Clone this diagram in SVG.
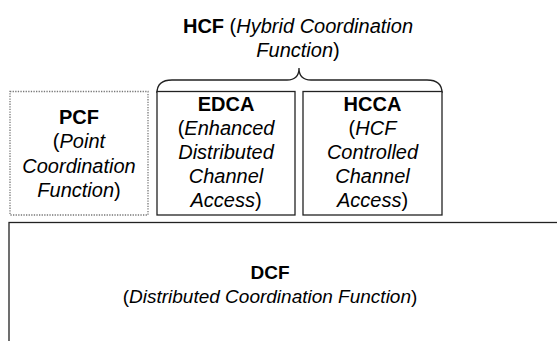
<svg xmlns="http://www.w3.org/2000/svg" width="557" height="341" viewBox="0 0 557 341">
<style>
text { font-family: "Liberation Sans", Arial, sans-serif; font-size: 20px; fill: #000; text-anchor: middle; }
.b { font-weight: bold; }
.i { font-style: italic; }
.s19 { font-size: 19px; }
.box { fill: #fff; stroke: #222; stroke-width: 1.3; }
.dot { fill: #fff; stroke: #777; stroke-width: 1.3; stroke-dasharray: 1.3 1.3; }
.brace { fill: none; stroke: #222; stroke-width: 1.3; }
</style>
<rect width="557" height="341" fill="#fff"/>
<g id="hcf">
<text x="298" y="33"><tspan class="b">HCF</tspan> (<tspan class="i">Hybrid Coordination</tspan></text>
<text x="298" y="57"><tspan class="i">Function</tspan>)</text>
</g>
<g id="connectors">
<path class="brace" d="M157,93 Q157,80 172,80 L287,80 Q299,80 299,68 Q299,80 311,80 L427,80 Q442,80 442,93"/>
</g>
<g id="pcf">
<rect class="dot" x="10" y="91.5" width="138" height="123.5"/>
<text x="79" y="124" class="b">PCF</text>
<text x="79" y="148">(<tspan class="i">Point</tspan></text>
<text x="79" y="173" class="i">Coordination</text>
<text x="79" y="197"><tspan class="i">Function</tspan>)</text>
</g>
<g id="edca">
<rect class="box" x="157" y="91.5" width="138" height="123.5"/>
<text x="226" y="111" class="b">EDCA</text>
<text x="226" y="135">(<tspan class="i">Enhanced</tspan></text>
<text x="226" y="159" class="i">Distributed</text>
<text x="226" y="183" class="i">Channel</text>
<text x="226" y="207"><tspan class="i">Access</tspan>)</text>
</g>
<g id="hcca">
<rect class="box" x="303" y="91.5" width="139" height="123.5"/>
<text x="372.5" y="111" class="b">HCCA</text>
<text x="372.5" y="135">(<tspan class="i">HCF</tspan></text>
<text x="372.5" y="159" class="i">Controlled</text>
<text x="372.5" y="183" class="i">Channel</text>
<text x="372.5" y="207"><tspan class="i">Access</tspan>)</text>
</g>
<g id="dcf">
<rect class="box" x="9" y="222.5" width="600" height="200"/>
<text x="270" y="279" class="b s19">DCF</text>
<text x="270" y="303" class="s19">(<tspan class="i">Distributed Coordination Function</tspan>)</text>
</g>
</svg>
